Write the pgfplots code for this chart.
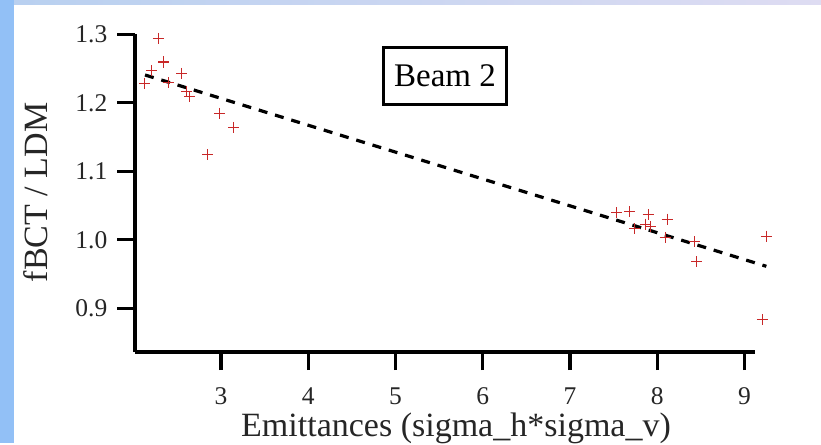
\documentclass[border=0pt]{standalone}
\usepackage{pgfplots}
\pgfplotsset{compat=1.18}
\usepackage{fontspec}
\setmainfont{Liberation Serif}
\definecolor{ptred}{RGB}{200,40,40}
\definecolor{bgblueA}{RGB}{146,192,246}
\definecolor{bgblueB}{RGB}{184,208,240}
\definecolor{bgblueC}{RGB}{222,220,242}
\begin{document}
\begin{tikzpicture}[x=1pt,y=1pt]
\fill[white] (0,0) rectangle (821,443);
\shade[left color=bgblueB,right color=bgblueC] (0,438) rectangle (821,443);
\fill[bgblueA] (0,0) rectangle (14,443);
\begin{axis}[
  at={(135pt,91pt)}, anchor=south west,
  scale only axis, width=620pt, height=317.7pt,
  xmin=2.015, xmax=9.12, ymin=0.8362, ymax=1.3,
  clip=false,
  axis x line*=bottom, axis y line*=left,
  axis line style={line width=3.2pt,-},
  tick align=outside, major tick length=18pt,
  tick style={line width=3.2pt,black},
  xtick={3,4,5,6,7,8,9},
  ytick={0.9,1.0,1.1,1.2,1.3},
  /pgf/number format/assume math mode=true,
  yticklabel style={/pgf/number format/fixed,/pgf/number format/fixed zerofill,/pgf/number format/precision=1, inner sep=1pt, xshift=-8.5pt},
  xticklabel style={inner sep=1pt, yshift=-16.5pt},
  tick label style={font=\fontsize{25.5}{25.5}\selectfont, text=black!85},
]
\addplot[only marks, mark=+, mark size=5.5pt, color=ptred, mark options={line width=1pt}] coordinates {
(2.282,1.2942) (2.339,1.2585) (2.345,1.2600) (2.206,1.2469) (2.129,1.2285)
(2.550,1.2430) (2.396,1.2293) (2.607,1.2162) (2.645,1.2089) (2.989,1.1847)
(3.149,1.1642) (2.848,1.1238)
(7.533,1.0396) (7.685,1.0410) (7.895,1.0362) (8.112,1.0300) (7.868,1.0230)
(7.742,1.0168) (7.922,1.0191) (8.089,1.0036) (8.430,0.9972) (8.450,0.9680)
(9.250,1.0055) (9.204,0.8830)
};
\addplot[black, line width=3.2pt, dash pattern=on 9pt off 8pt] coordinates {(2.13,1.2406) (9.25,0.9613)};
\end{axis}
\node[draw, line width=3pt, minimum width=123pt, minimum height=57pt, inner sep=0pt, font=\fontsize{33}{33}\selectfont] at (445,366.8) {Beam 2};
\node[anchor=base, inner sep=0pt, font=\fontsize{34}{34}\selectfont, text=black!85] at (456,6.3) {Emittances (sigma\_h*sigma\_v)};
\node[anchor=base, inner sep=0pt, rotate=90, font=\fontsize{34}{34}\selectfont, text=black!85] at (47,250.5) {fBCT / LDM};
\end{tikzpicture}
\end{document}
